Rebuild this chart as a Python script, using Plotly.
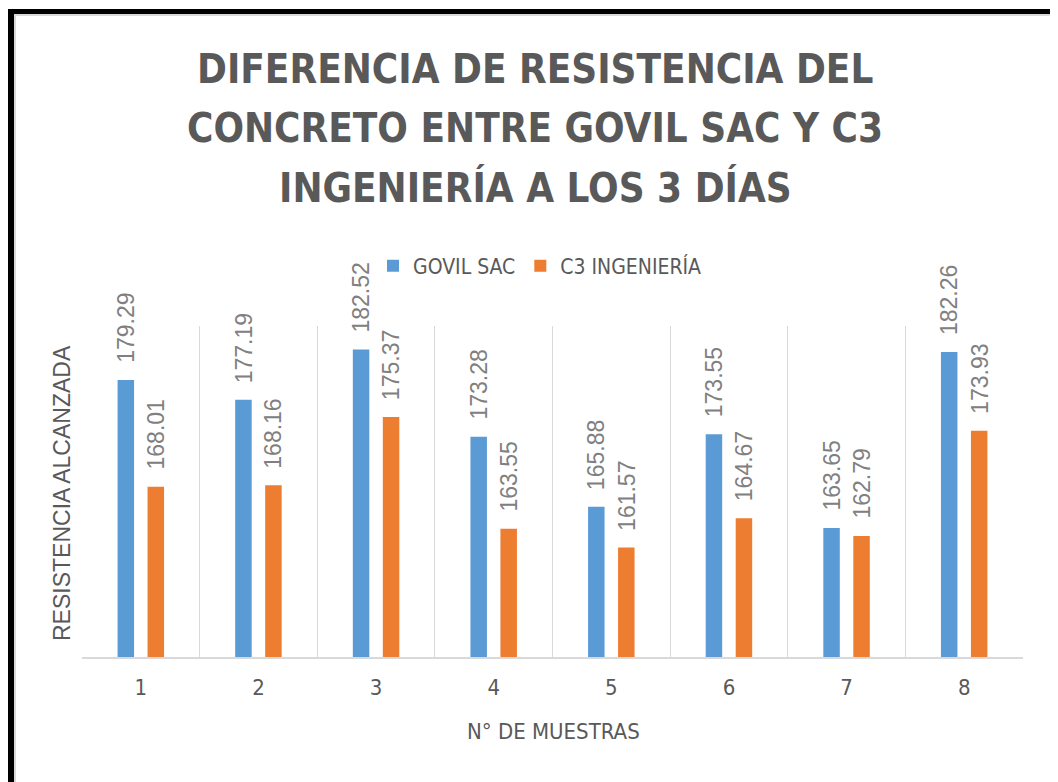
import plotly.graph_objects as go

categories = ["1", "2", "3", "4", "5", "6", "7", "8"]
govil_sac = [179.29, 177.19, 182.52, 173.28, 165.88, 173.55, 163.65, 182.26]
c3_ingenieria = [168.01, 168.16, 175.37, 163.55, 161.57, 164.67, 162.79, 173.93]
series_names = ["GOVIL SAC", "C3 INGENIERÍA"]
series_colors = ["#5B9BD5", "#ED7D31"]
title_lines = ["DIFERENCIA DE RESISTENCIA DEL", "CONCRETO ENTRE GOVIL SAC Y C3", "INGENIERÍA A LOS 3 DÍAS"]
x_title = "N° DE MUESTRAS"
y_title = "RESISTENCIA ALCANZADA"

# page has an 8px body margin, so figure coords = page coords - 8
OFF = 8
W, H = 1050, 774
L, R, T, B = 74, 35, 318, 125
PW, PH = W - L - R, H - T - B

def fx(px):
    return (px - OFF - L) / PW

def fy(py):
    return (H - B - (py - OFF)) / PH

NARROW = "DejaVu Sans Condensed, Liberation Sans Narrow, sans-serif"
REG = "Liberation Sans, Arial, sans-serif"
DARK = "#595959"

fig = go.Figure()
for name, vals, col in zip(series_names, [govil_sac, c3_ingenieria], series_colors):
    fig.add_trace(go.Bar(
        x=categories, y=vals, name=name,
        marker=dict(color=col, line=dict(width=0)),
    ))

annotations = []
# data labels (rotated), anchored to each bar's category index and value
for vals, shift in [(govil_sac, -15), (c3_ingenieria, 15)]:
    for i, v in enumerate(vals):
        annotations.append(dict(
            x=i, y=v, xref="x", yref="y", text=f"{v:.2f}", textangle=-90,
            xanchor="center", yanchor="bottom", xshift=shift, yshift=15,
            showarrow=False, font=dict(family=REG, size=23, color="#808080"),
        ))

for line, cy in zip(title_lines, [69, 128, 188]):
    annotations.append(dict(
        text=f"<b>{line}</b>", x=fx(535), y=fy(cy), xref="paper", yref="paper",
        xanchor="center", yanchor="middle", showarrow=False,
        font=dict(family=NARROW, size=40, color=DARK),
    ))
annotations.append(dict(
    text=y_title, x=fx(62), y=fy(493), xref="paper", yref="paper",
    xanchor="center", yanchor="middle", textangle=-90, showarrow=False,
    font=dict(family=REG, size=23, color=DARK),
))
annotations.append(dict(
    text=x_title, x=fx(553), y=fy(731), xref="paper", yref="paper",
    xanchor="center", yanchor="middle", showarrow=False,
    font=dict(family=NARROW, size=22, color=DARK),
))

shapes = [
    dict(type="rect", xref="paper", yref="paper", x0=fx(8), x1=fx(14), y0=fy(790), y1=fy(9),
         fillcolor="black", line=dict(width=0), layer="above"),
    dict(type="rect", xref="paper", yref="paper", x0=fx(8), x1=fx(1066), y0=fy(14), y1=fy(9),
         fillcolor="black", line=dict(width=0), layer="above"),
    dict(type="line", xref="paper", yref="paper", x0=fx(15), x1=fx(15), y0=fy(790), y1=fy(14),
         line=dict(color="#d9d9d9", width=2)),
    dict(type="line", xref="paper", yref="paper", x0=fx(14), x1=fx(1056), y0=fy(15), y1=fy(15),
         line=dict(color="#d9d9d9", width=2)),
    dict(type="line", xref="paper", yref="paper", x0=fx(1056), x1=fx(1056), y0=fy(790), y1=fy(14),
         line=dict(color="#d9d9d9", width=2)),
]

fig.update_layout(
    width=W, height=H,
    margin=dict(l=L, r=R, t=T, b=B),
    paper_bgcolor="white", plot_bgcolor="white",
    barmode="group", bargap=0.49, bargroupgap=0.45,
    showlegend=True,
    legend=dict(orientation="h", x=fx(540), xanchor="center", y=fy(266), yanchor="middle",
                font=dict(family=NARROW, size=21, color=DARK), itemwidth=30,
                bgcolor="rgba(0,0,0,0)"),
    annotations=annotations,
    shapes=shapes,
    xaxis=dict(type="category", tickson="boundaries", showgrid=True, gridcolor="#d9d9d9",
               gridwidth=1, showline=True, linecolor="#d9d9d9", linewidth=2, ticks="",
               range=[-0.5, len(categories) - 0.5],
               tickfont=dict(family=NARROW, size=22, color=DARK), ticklabelstandoff=10),
    yaxis=dict(range=[150, 185], showgrid=False, showticklabels=False, zeroline=False,
               showline=False, ticks=""),
)

fig.write_html("out.html")
